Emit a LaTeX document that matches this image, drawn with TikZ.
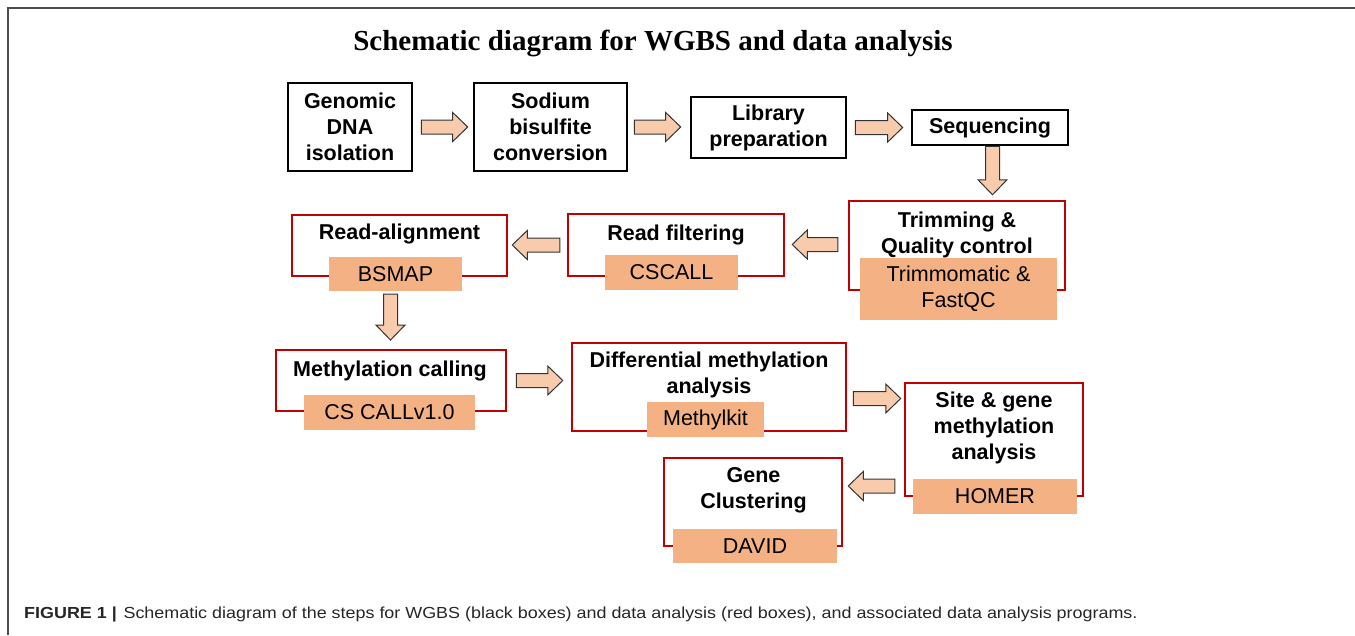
\documentclass[tikz,border=0pt]{standalone}
\usepackage{fontspec}
\setmainfont{Liberation Sans}
\newfontfamily\headfont{Liberation Serif}
\usetikzlibrary{calc}
\definecolor{wgbsred}{RGB}{192,0,0}
\definecolor{toolfill}{RGB}{244,177,131}
\definecolor{arrfill}{RGB}{248,203,173}
% fat block arrows, kept on the height (hfat) or the x (vfat) of their start
\tikzstyle{hfat} = [draw=black!80, fill=arrfill, line width=1pt, to path={
  let \p1=(\tikztostart), \p2=(\tikztotarget), \n1={\x2+15pt*sign(\x1-\x2)} in
  (\x1,\y1+7pt) -- (\n1,\y1+7pt) -- (\n1,\y1+14.5pt) -- (\x2,\y1)
  -- (\n1,\y1-14.5pt) -- (\n1,\y1-7pt) -- (\x1,\y1-7pt) -- cycle}]
\tikzstyle{vfat} = [draw=black!80, fill=arrfill, line width=1pt, to path={
  let \p1=(\tikztostart), \p2=(\tikztotarget), \n1={\y2+15pt*sign(\y1-\y2)} in
  (\x1+7pt,\y1) -- (\x1+7pt,\n1) -- (\x1+14.5pt,\n1) -- (\x1,\y2)
  -- (\x1-14.5pt,\n1) -- (\x1-7pt,\n1) -- (\x1-7pt,\y1) -- cycle}]

\begin{document}
\begin{tikzpicture}[x=1pt,y=-1pt]

\tikzstyle{wet} = [draw=black, line width=2.6pt, align=center, inner sep=0pt, font=\fontsize{21.5}{26}\selectfont\bfseries]
\tikzstyle{dry} = [draw=wgbsred, line width=2.5pt, inner sep=0pt]
\tikzstyle{hd} = [align=center, inner sep=0pt, font=\fontsize{21.5}{26}\selectfont\bfseries]
\tikzstyle{tool} = [fill=toolfill, align=center, inner sep=0pt, font=\fontsize{21.5}{26}\selectfont]

\useasboundingbox (0,0) rectangle (1355,635);
\draw[black!70, line width=2pt] (8,635) -- (8,8) -- (1355,8);

\node[font=\headfont\fontsize{29}{32}\selectfont\bfseries](title)at(653,43){Schematic diagram for WGBS and data analysis};

% wet lab steps
\node[wet, minimum width=124, minimum height=88](dna)at(350,127){Genomic\\DNA\\isolation};
\node[wet, minimum width=153, minimum height=88](bis)at(550.5,127){Sodium\\bisulfite\\conversion};
\node[wet, minimum width=155, minimum height=61](lib)at(768.5,127.5){Library\\preparation};
\node[wet, minimum width=156, minimum height=35](seq)at(990,127.5){Sequencing};

% analysis steps and their programs
\node[dry, minimum width=216, minimum height=89](trim)at(957,245.5){};
\node[hd](trimH)at(957,234.5){Trimming \&\\Quality control};
\node[tool, minimum width=197, minimum height=62](trimT)at(958.5,289){Trimmomatic \&\\FastQC};

\node[dry, minimum width=216, minimum height=62](filt)at(676,245){};
\node[hd](filtH)at(676,234.5){Read filtering};
\node[tool, minimum width=133, minimum height=35](filtT)at(671.5,272.5){CSCALL};

\node[dry, minimum width=215, minimum height=61](aln)at(399.5,245.5){};
\node[hd](alnH)at(399.5,233.5){Read-alignment};
\node[tool, minimum width=133, minimum height=34](alnT)at(395.5,274){BSMAP};

\node[dry, minimum width=230, minimum height=61](mcall)at(391,380.5){};
\node[hd](mcallH)at(390,370.5){Methylation calling};
\node[tool, minimum width=171, minimum height=35](mcallT)at(389.5,412.5){CS CALLv1.0};

\node[dry, minimum width=274, minimum height=88](dma)at(709,387){};
\node[hd](dmaH)at(709,375){Differential methylation\\analysis};
\node[tool, minimum width=117, minimum height=35](dmaT)at(705.5,419.5){Methylkit};

\node[dry, minimum width=178, minimum height=113](site)at(994,439.5){};
\node[hd](siteH)at(994,427.5){Site \& gene\\methylation\\analysis};
\node[tool, minimum width=164, minimum height=35](siteT)at(995,496.5){HOMER};

\node[dry, minimum width=178, minimum height=88](clus)at(753,502){};
\node[hd](clusH)at(753.5,490.5){Gene\\Clustering};
\node[tool, minimum width=164, minimum height=34](clusT)at(755,546){DAVID};

% flow
\draw[hfat]([xshift=8pt]dna.east) to ([xshift=-5pt]bis.west);
\draw[hfat]([xshift=6pt]bis.east) to ([xshift=-9pt]lib.west);
\draw[hfat]([xshift=8pt]lib.east) to ([xshift=-8pt]seq.west);
\draw[vfat]([xshift=2.5pt]seq.south) to ([yshift=5pt]trim.north);
\draw[hfat]([xshift=-10pt,yshift=1pt]trim.west) to ([xshift=7pt]filt.east);
\draw[hfat]([xshift=-7pt]filt.west) to ([xshift=4pt]aln.east);
\draw[vfat]([xshift=-5pt,yshift=-3pt]alnT.south) to ([yshift=8.7pt]mcall.north);
\draw[hfat]([xshift=9pt]mcall.east) to ([xshift=-8pt]dma.west);
\draw[hfat]([xshift=6pt,yshift=-11.5pt]dma.east) to ([xshift=-3pt]site.west);
\draw[hfat]([xshift=-9pt,yshift=-46.5pt]site.west) to ([xshift=5pt]clus.east);

\node[anchor=base west, inner sep=0pt, text=black!85, font=\fontsize{16}{18}\selectfont](caption)at(24,618){\scalebox{1.12}[1]{\textbf{FIGURE 1 |}\hspace{6pt}Schematic diagram of the steps for WGBS (black boxes) and data analysis (red boxes), and associated data analysis programs.}};

\end{tikzpicture}
\end{document}
